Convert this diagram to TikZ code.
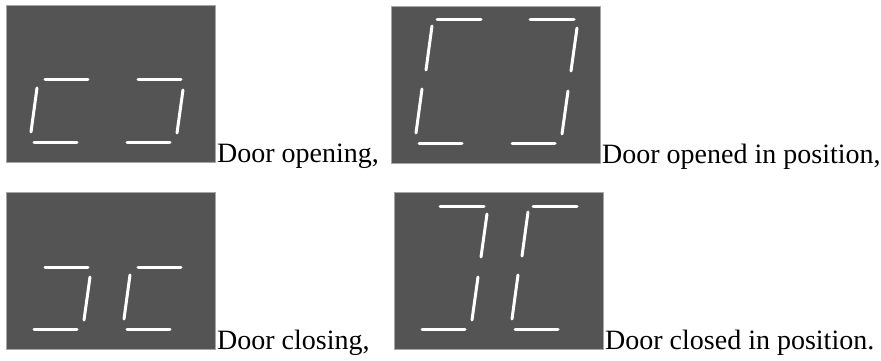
\documentclass[tikz,border=0pt]{standalone}
\usepackage{fontspec}
\setmainfont{Liberation Serif}
\usetikzlibrary{positioning}

\begin{document}
\begin{tikzpicture}[
  x=1pt, y=-1pt,
  % dark display window
  panel/.style   = {draw=gray!70, fill=black!67, line width=0.8pt,
                    minimum width=209pt, minimum height=157pt,
                    inner sep=0, outer sep=0, anchor=north west},
  % lit segment of a 7-segment digit
  lit/.style     = {draw=white, line width=3pt, line cap=round},
  % caption after each window
  caption/.style = {font=\fontsize{28}{34}\selectfont, inner sep=0,
                    anchor=base west},
]

\useasboundingbox (0,0) rectangle (881,361);

% ──────────────────────────
%  Segments of the left digit (the right digit is shifted by 93)
%  a top, b upper right, c lower right, d bottom,
%  e lower left, f upper left, g middle
% ──────────
\newcommand{\segA}{(46,14) -- (90,14)}
\newcommand{\segB}{(93,22) -- (87,65)}
\newcommand{\segC}{(84,85) -- (78,128)}
\newcommand{\segD}{(28,137) -- (71,137)}
\newcommand{\segE}{(31,83) -- (25,127)}
\newcommand{\segF}{(41,20) -- (35,64)}
\newcommand{\segG}{(39,75) -- (82,75)}
\newcommand{\litseg}[2]{\draw[lit, xshift=#1pt] \csname seg#2\endcsname;}

% ═══════════════════════════════
%  Door opening
% ═══════════════════
\node[panel] (pOpening) at (6,5) {};
\begin{scope}[shift={(pOpening.north west)}]
  \foreach \d/\s in {0/E, 0/G, 0/D, 93/G, 93/C, 93/D}
    {\litseg{\d}{\s}}
\end{scope}
\node[caption] (tOpening) at ([xshift=2pt]pOpening.south east) {Door opening,};

% ═══════════════════════════════
%  Door opened in position
% ═══════════════════
\node[panel] (pOpened) at (391,6) {};
\begin{scope}[shift={(pOpened.north west)}]
  \foreach \d/\s in {0/A, 0/F, 0/E, 0/D, 93/A, 93/B, 93/C, 93/D}
    {\litseg{\d}{\s}}
\end{scope}
\node[caption] (tOpened) at ([xshift=2pt]pOpened.south east) {Door opened in position,};

% ═══════════════════════════════
%  Door closing
% ═══════════════════
\node[panel] (pClosing) at (6,192) {};
\begin{scope}[shift={(pClosing.north west)}]
  \foreach \d/\s in {0/G, 0/C, 0/D, 93/G, 93/E, 93/D}
    {\litseg{\d}{\s}}
\end{scope}
\node[caption] (tClosing) at ([xshift=2pt]pClosing.south east) {Door closing,};

% ═══════════════════════════════
%  Door closed in position
% ═══════════════════
\node[panel] (pClosed) at (394,192) {};
\begin{scope}[shift={(pClosed.north west)}]
  \foreach \d/\s in {0/A, 0/B, 0/C, 0/D, 93/A, 93/F, 93/E, 93/D}
    {\litseg{\d}{\s}}
\end{scope}
\node[caption] (tClosed) at ([xshift=2pt]pClosed.south east) {Door closed in position.};

\end{tikzpicture}
\end{document}
